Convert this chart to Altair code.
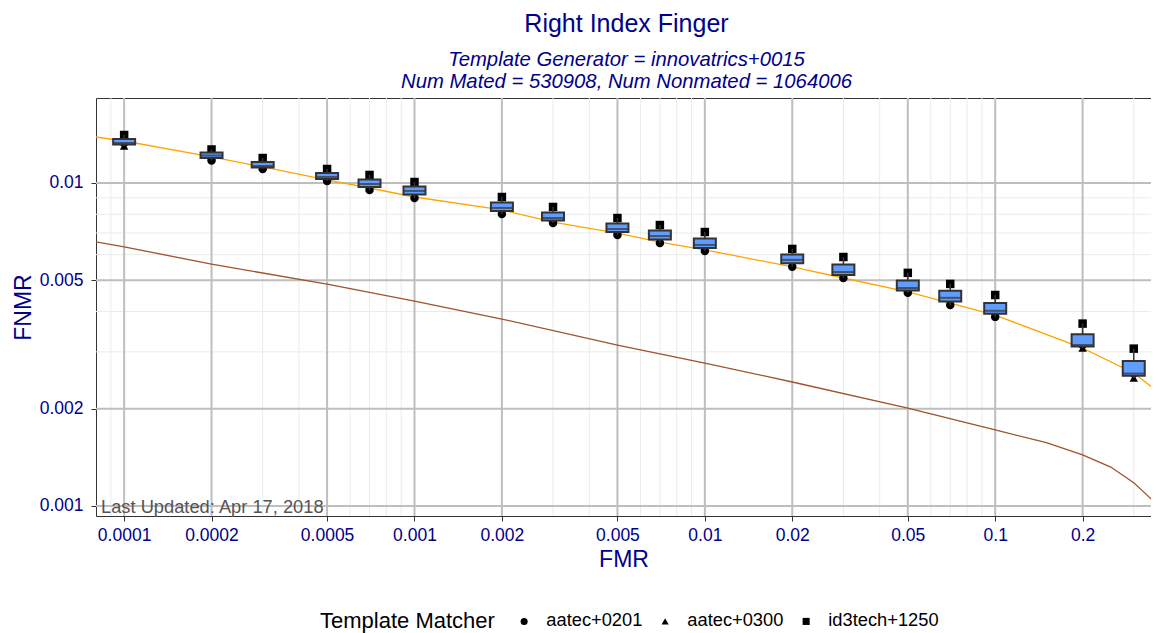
import altair as alt
import pandas as pd

FONT = "Liberation Sans"
NAVY = "#00008B"

# Boxplot operating points (FMR) and per-matcher FNMR values
fmr_levels = [0.0001, 0.0002, 0.0003, 0.0005, 0.0007, 0.001, 0.002, 0.003, 0.005,
              0.007, 0.01, 0.02, 0.03, 0.05, 0.07, 0.1, 0.2, 0.3]
matchers = ["aatec+0201", "aatec+0300", "id3tech+1250"]
aatec0201 = [0.01330, 0.01174, 0.01105, 0.01014, 0.00951, 0.00899, 0.00802, 0.00752, 0.00690,
             0.00652, 0.00616, 0.00550, 0.00508, 0.00457, 0.00419, 0.00385, 0.00315, 0.00257]
aatec0300 = [0.01302, 0.01216, 0.01129, 0.01044, 0.00993, 0.00945, 0.00837, 0.00779, 0.00720,
             0.00685, 0.00643, 0.00578, 0.00530, 0.00473, 0.00441, 0.00402, 0.00308, 0.00249]
id3tech1250 = [0.01408, 0.01270, 0.01195, 0.01105, 0.01059, 0.01007, 0.00905, 0.00843, 0.00779,
               0.00741, 0.00705, 0.00625, 0.00590, 0.00527, 0.00487, 0.00450, 0.00367, 0.00307]

# DET curves
orange_fmr = [8e-5, 1e-4, 2e-4, 3e-4, 5e-4, 7e-4, 1e-3, 2e-3, 3e-3, 5e-3, 7e-3, 0.01,
              0.02, 0.03, 0.05, 0.07, 0.1, 0.2, 0.3, 0.365]
orange_fnmr = [0.01388, 0.01349, 0.01204, 0.01121, 0.01022, 0.00965, 0.00905, 0.00825, 0.00757,
               0.00700, 0.00656, 0.00621, 0.00550, 0.00508, 0.00460, 0.00425, 0.00390, 0.00308,
               0.00258, 0.00225]
brown_fmr = [8e-5, 1e-4, 2e-4, 5e-4, 1e-3, 2e-3, 5e-3, 0.01, 0.02, 0.05, 0.1, 0.15, 0.2,
             0.25, 0.3, 0.33, 0.365]
brown_fnmr = [0.00657, 0.00634, 0.00561, 0.00486, 0.00431, 0.00379, 0.00315, 0.00277, 0.00242,
              0.00201, 0.00172, 0.00157, 0.00144, 0.00132, 0.00118, 0.00109, 0.00100]

# Axis breaks
x_major = [1e-4, 2e-4, 5e-4, 1e-3, 2e-3, 5e-3, 0.01, 0.02, 0.05, 0.1, 0.2]
x_minor = [9e-5, 3e-4, 4e-4, 6e-4, 7e-4, 8e-4, 9e-4, 3e-3, 4e-3, 6e-3, 7e-3, 8e-3, 9e-3,
           0.03, 0.04, 0.06, 0.07, 0.08, 0.09, 0.3]
y_major = [0.001, 0.002, 0.005, 0.01]
y_minor = [0.003, 0.004, 0.006, 0.007, 0.008, 0.009]
x_domain = [8e-5, 0.344]
y_domain = [0.000931, 0.01833]

title_text = "Right Index Finger"
subtitle_lines = ["Template Generator = innovatrics+0015",
                  "Num Mated = 530908, Num Nonmated = 1064006"]
note_text = "Last Updated: Apr 17, 2018"

# Tables
rows = []
for vals, m in zip([aatec0201, aatec0300, id3tech1250], matchers):
    for f, v in zip(fmr_levels, vals):
        rows.append({"FMR": f, "FNMR": v, "matcher": m})
pts = pd.DataFrame(rows)
orange_df = pd.DataFrame({"FMR": orange_fmr, "FNMR": orange_fnmr})
brown_df = pd.DataFrame({"FMR": brown_fmr, "FNMR": brown_fnmr})

xs = alt.Scale(type="log", domain=x_domain, nice=False, padding=0)
ys = alt.Scale(type="log", domain=y_domain, nice=False, padding=0)

xaxis = alt.Axis(title="FMR", values=x_major, format="~g", grid=False, domain=False,
                 ticks=True, tickColor="#333333", tickSize=5, labelColor=NAVY,
                 labelFontSize=17.5, labelFont=FONT, titleColor=NAVY, titleFontSize=23,
                 titleFont=FONT, titleFontWeight="normal", labelPadding=5, titlePadding=5,
                 labelFlush=False, labelOverlap=False)
yaxis = alt.Axis(title="FNMR", values=y_major, format="~g", grid=False, domain=False,
                 ticks=True, tickColor="#333333", tickSize=5, labelColor=NAVY,
                 labelFontSize=17.5, labelFont=FONT, titleColor=NAVY, titleFontSize=23,
                 titleFont=FONT, titleFontWeight="normal", labelPadding=8, titlePadding=4,
                 labelFlush=False, labelOverlap=False)


def X(field):
    return alt.X(field, type="quantitative", scale=xs, axis=xaxis)


def Y(field):
    return alt.Y(field, type="quantitative", scale=ys, axis=yaxis)


xminor_layer = alt.Chart(pd.DataFrame({"FMR": x_minor})).mark_rule(
    color="#ebebeb", strokeWidth=1).encode(x=X("FMR"))
yminor_layer = alt.Chart(pd.DataFrame({"FNMR": y_minor})).mark_rule(
    color="#ebebeb", strokeWidth=1).encode(y=Y("FNMR"))
xmajor_layer = alt.Chart(pd.DataFrame({"FMR": x_major})).mark_rule(
    color="#bebebe", strokeWidth=2).encode(x=X("FMR"))
ymajor_layer = alt.Chart(pd.DataFrame({"FNMR": y_major})).mark_rule(
    color="#bebebe", strokeWidth=2).encode(y=Y("FNMR"))

brown_line = alt.Chart(brown_df).mark_line(color="#A0522D", strokeWidth=1.3, clip=True).encode(
    x=X("FMR"), y=Y("FNMR"))
orange_line = alt.Chart(orange_df).mark_line(color="#FFA500", strokeWidth=1.3, clip=True).encode(
    x=X("FMR"), y=Y("FNMR"))

points = alt.Chart(pts).mark_point(filled=True, opacity=1, color="black", size=72).encode(
    x=X("FMR"), y=Y("FNMR"),
    shape=alt.Shape("matcher:N",
                    scale=alt.Scale(domain=matchers, range=["circle", "triangle-up", "square"]),
                    legend=alt.Legend(title="Template Matcher", orient="none", legendX=224,
                                      legendY=514, direction="horizontal", titleOrient="left",
                                      titleFontSize=22, titleFont=FONT, titleFontWeight="normal",
                                      titleColor="black", labelFontSize=18.3, labelFont=FONT,
                                      labelColor="black", symbolSize=50,
                                      symbolFillColor="black", symbolStrokeColor="black",
                                      titlePadding=20, columnPadding=13, labelOffset=13)),
)

box_base = alt.Chart(pts).transform_calculate(
    lv="log(datum.FNMR)/LN10"
).transform_aggregate(
    lq1="q1(lv)", lmed="median(lv)", lq3="q3(lv)", lmin="min(lv)", lmax="max(lv)",
    groupby=["FMR"]
).transform_calculate(
    q1="pow(10, datum.lq1)", med="pow(10, datum.lmed)", q3="pow(10, datum.lq3)",
    lo="pow(10, datum.lmin)", hi="pow(10, datum.lmax)"
)

whiskers = box_base.mark_rule(color="#333333", strokeWidth=1.5).encode(
    x=X("FMR"), y=Y("lo"), y2="hi:Q")
boxes = box_base.mark_bar(size=22, fill="#619CFF", stroke="#333333", strokeWidth=2).encode(
    x=X("FMR"), y=Y("q1"), y2="q3:Q")
medians = box_base.mark_tick(orient="horizontal", size=22, thickness=2, color="#333333").encode(
    x=X("FMR"), y=Y("med"))

note = alt.Chart(pd.DataFrame({"t": [note_text]})).mark_text(
    align="left", baseline="alphabetic", fontSize=18.3, font=FONT, color="#555555").encode(
    x=alt.value(5), y=alt.value(415), text="t:N")

chart = alt.layer(
    xminor_layer, yminor_layer, xmajor_layer, ymajor_layer,
    brown_line, orange_line, points, whiskers, boxes, medians, note
).properties(
    width=1055, height=418,
    title=alt.TitleParams(text=title_text, subtitle=subtitle_lines, anchor="middle",
                          fontSize=25, font=FONT, fontWeight="normal", color=NAVY,
                          subtitleColor=NAVY, subtitleFont=FONT, subtitleFontSize=20.3,
                          subtitleFontStyle="italic", subtitlePadding=13,
                          subtitleLineHeight=22, offset=5, dx=3),
    padding={"left": 88, "top": 90, "right": 0, "bottom": 117},
    autosize=alt.AutoSizeParams(type="none"),
).configure_view(stroke="#333333", strokeWidth=1)

chart.save("out.html", embed_options={"renderer": "svg", "actions": False})
